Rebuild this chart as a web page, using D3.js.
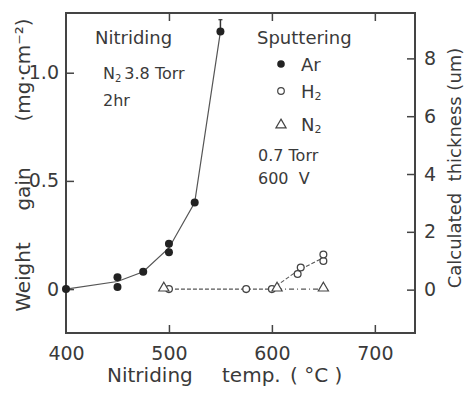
<!DOCTYPE html>
<html>
<head>
<meta charset="utf-8">
<script src="https://cdn.jsdelivr.net/npm/d3@7"></script>
<style>
  body { margin: 0; background: #fff; }
  text { font-family: "DejaVu Sans", sans-serif; fill: #3a3a3a; }
</style>
</head>
<body>
<svg id="chart" width="466" height="398"></svg>
<script>
// Ar sputtering (filled circles)
const arTemp = [400, 450, 450, 475, 500, 500, 525, 550];
const arGain = [0, 0.055, 0.01, 0.08, 0.21, 0.17, 0.40, 1.19];
const arLineTemp = [400, 450, 475, 500, 525, 550];
const arLineGain = [0, 0.035, 0.08, 0.19, 0.40, 1.19];

// H2 sputtering (open circles)
const h2Temp = [500, 575, 600, 625, 628, 650, 650];
const h2Gain = [0, 0, 0, 0.07, 0.10, 0.13, 0.16];
const h2LineTemp = [500, 575, 600, 625, 650];
const h2LineGain = [0, 0, 0, 0.085, 0.145];

// N2 sputtering (triangles)
const n2Temp = [495, 605, 650];
const n2Gain = [0, 0, 0];

const xTicks = [400, 500, 600, 700];
const leftTicks = [0, 0.5, 1.0];
const leftTickLabels = ["0", "0.5", "1.0"];
const rightTicks = [0, 2, 4, 6, 8];

const pLeft = 66, pRight = 415, pTop = 13, pBottom = 333;
const svg = d3.select("#chart");

const x = d3.scaleLinear().domain([400, 739]).range([pLeft, pRight]);
const y = d3.scaleLinear().domain([-0.203, 1.276]).range([pBottom, pTop]);
const y2 = d3.scaleLinear().domain([-1.5, 9.57]).range([pBottom, pTop]);

const ink = "#444";

// frame
svg.append("rect")
  .attr("x", pLeft).attr("y", pTop)
  .attr("width", pRight - pLeft).attr("height", pBottom - pTop)
  .attr("fill", "none").attr("stroke", ink).attr("stroke-width", 2);

// bottom axis
const xb = svg.append("g")
  .attr("transform", "translate(0," + pBottom + ")")
  .call(d3.axisBottom(x).tickValues(xTicks).tickSizeInner(-8).tickSizeOuter(0).tickPadding(14));
xb.select(".domain").remove();
xb.selectAll("line").attr("stroke", ink).attr("stroke-width", 1.5)
  .filter(d => d === 400).remove();
xb.selectAll("text").attr("font-size", 19).attr("fill", "#3a3a3a").attr("font-family", "DejaVu Sans");

// top axis ticks
const xt = svg.append("g")
  .attr("transform", "translate(0," + pTop + ")")
  .call(d3.axisTop(x).tickValues([500, 600, 700]).tickSizeInner(-8).tickSizeOuter(0).tickFormat(""));
xt.select(".domain").remove();
xt.selectAll("line").attr("stroke", ink).attr("stroke-width", 1.5);

// left axis
const yl = svg.append("g")
  .attr("transform", "translate(" + pLeft + ",0)")
  .call(d3.axisLeft(y).tickValues(leftTicks).tickSizeInner(-8).tickSizeOuter(0).tickPadding(7)
    .tickFormat((d, i) => leftTickLabels[i]));
yl.select(".domain").remove();
yl.selectAll("line").attr("stroke", ink).attr("stroke-width", 1.5);
yl.selectAll("text").attr("font-size", 19).attr("fill", "#3a3a3a").attr("font-family", "DejaVu Sans");

// right axis
const yr = svg.append("g")
  .attr("transform", "translate(" + pRight + ",0)")
  .call(d3.axisRight(y2).tickValues(rightTicks).tickSizeInner(-8).tickSizeOuter(0).tickPadding(9));
yr.select(".domain").remove();
yr.selectAll("line").attr("stroke", ink).attr("stroke-width", 1.5);
yr.selectAll("text").attr("font-size", 19).attr("fill", "#3a3a3a").attr("font-family", "DejaVu Sans");

// axis titles
[["Nitriding", 107], ["temp.", 222], ["( °C )", 290]].forEach(([t, tx]) => {
  svg.append("text").attr("x", tx).attr("y", 382).attr("font-size", 20)
    .attr("xml:space", "preserve").text(t);
});

[["Weight", 277], ["gain", 189], ["(mg·cm⁻²)", 70]].forEach(([t, cy]) => {
  svg.append("text").attr("transform", "translate(30," + cy + ") rotate(-90)")
    .attr("text-anchor", "middle").attr("font-size", 20).text(t);
});
svg.append("text").attr("transform", "translate(461,168) rotate(-90)")
  .attr("text-anchor", "middle").attr("font-size", 18).attr("xml:space", "preserve")
  .text("Calculated  thickness (um)");

// Ar line and points
const line = d3.line().x(d => x(d[0])).y(d => y(d[1]));
svg.append("path")
  .datum(d3.zip(arLineTemp, arLineGain))
  .attr("d", line).attr("fill", "none").attr("stroke", "#555").attr("stroke-width", 1.2);

// error mark above 550
svg.append("line")
  .attr("x1", x(550)).attr("x2", x(550))
  .attr("y1", y(1.19)).attr("y2", y(1.245))
  .attr("stroke", "#333").attr("stroke-width", 1.5);
svg.append("line")
  .attr("x1", x(550) - 2).attr("x2", x(550) + 2)
  .attr("y1", y(1.245)).attr("y2", y(1.245))
  .attr("stroke", "#333").attr("stroke-width", 1.2);

svg.selectAll(".ar")
  .data(d3.zip(arTemp, arGain))
  .enter().append("circle")
  .attr("cx", d => x(d[0])).attr("cy", d => y(d[1]))
  .attr("r", 4).attr("fill", "#222");

// H2 line and points
svg.append("path")
  .datum(d3.zip(h2LineTemp, h2LineGain))
  .attr("d", line).attr("fill", "none").attr("stroke", "#555").attr("stroke-width", 1.1)
  .attr("stroke-dasharray", "4,2");

// N2 line
svg.append("path")
  .datum(d3.zip(n2Temp, n2Gain).slice(1))
  .attr("d", line).attr("fill", "none").attr("stroke", "#555").attr("stroke-width", 1.1)
  .attr("stroke-dasharray", "5,3,1,3");

svg.selectAll(".h2")
  .data(d3.zip(h2Temp, h2Gain))
  .enter().append("circle")
  .attr("cx", d => x(d[0])).attr("cy", d => y(d[1]))
  .attr("r", 3.4).attr("fill", "#fff").attr("stroke", "#444").attr("stroke-width", 1.3);

const tri = d3.symbol().type(d3.symbolTriangle).size(45);
svg.selectAll(".n2")
  .data(d3.zip(n2Temp, n2Gain))
  .enter().append("path")
  .attr("transform", d => "translate(" + x(d[0]) + "," + (y(d[1]) - 1) + ")")
  .attr("d", tri).attr("fill", "#fff").attr("stroke", "#444").attr("stroke-width", 1.2);

// annotations
svg.append("text").attr("x", 95).attr("y", 44).attr("font-size", 18).text("Nitriding");
const n2t = svg.append("text").attr("x", 103).attr("y", 79).attr("font-size", 16);
n2t.append("tspan").text("N");
n2t.append("tspan").attr("font-size", 10).attr("dy", 3).text("2");
n2t.append("tspan").attr("dy", -3).attr("dx", 3).text("3.8 Torr");
svg.append("text").attr("x", 103).attr("y", 106).attr("font-size", 16).text("2hr");

svg.append("text").attr("x", 257).attr("y", 44).attr("font-size", 18).text("Sputtering");

// legend
const lg = svg.append("g");
lg.append("circle").attr("cx", 281).attr("cy", 64).attr("r", 3.8).attr("fill", "#222");
lg.append("circle").attr("cx", 281).attr("cy", 91).attr("r", 3.3).attr("fill", "#fff")
  .attr("stroke", "#444").attr("stroke-width", 1.2);
lg.append("path").attr("transform", "translate(281,125)").attr("d", tri)
  .attr("fill", "#fff").attr("stroke", "#444").attr("stroke-width", 1.2);
lg.append("text").attr("x", 301).attr("y", 71).attr("font-size", 18).text("Ar");
const h2t = lg.append("text").attr("x", 301).attr("y", 98).attr("font-size", 18);
h2t.append("tspan").text("H");
h2t.append("tspan").attr("font-size", 11).attr("dy", 2).text("2");
const n2l = lg.append("text").attr("x", 301).attr("y", 131).attr("font-size", 18);
n2l.append("tspan").text("N");
n2l.append("tspan").attr("font-size", 11).attr("dy", 2).text("2");

svg.append("text").attr("x", 258).attr("y", 161).attr("font-size", 16).text("0.7 Torr");
svg.append("text").attr("x", 258).attr("y", 184).attr("font-size", 16).text("600  V")
  .attr("xml:space", "preserve");
</script>
</body>
</html>
